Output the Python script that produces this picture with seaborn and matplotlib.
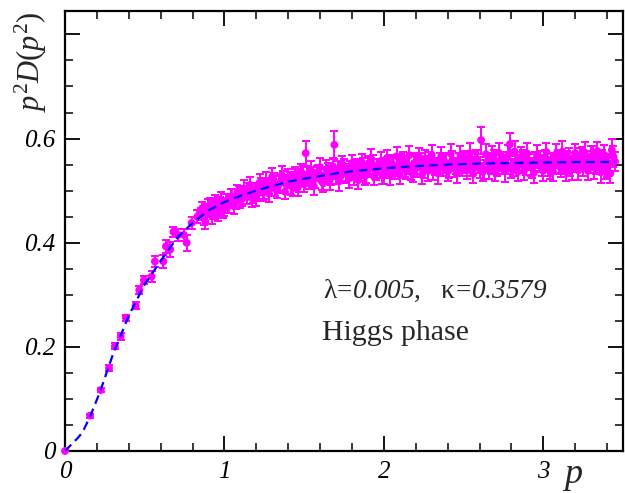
import numpy as np
import pandas as pd
import matplotlib
matplotlib.use('Agg')
import matplotlib.pyplot as plt
import seaborn as sns
from matplotlib.ticker import MultipleLocator, FixedLocator, FixedFormatter

# ---- data ----
# low-momentum points
p_low = [0.0, 0.157, 0.224, 0.276, 0.313, 0.349, 0.382, 0.443, 0.466, 0.495,
         0.543, 0.564, 0.617, 0.633, 0.66, 0.68, 0.71, 0.745, 0.763, 0.794, 0.83]
y_low = [0.0, 0.068, 0.117, 0.159, 0.201, 0.220, 0.256, 0.279, 0.309, 0.328,
         0.335, 0.364, 0.364, 0.393, 0.387, 0.421, 0.415, 0.415, 0.400, 0.438, 0.450]
e_low = [0.002, 0.004, 0.004, 0.006, 0.006, 0.006, 0.006, 0.007, 0.008, 0.008,
         0.010, 0.010, 0.012, 0.012, 0.014, 0.010, 0.012, 0.012, 0.015, 0.012, 0.012]

# dense band, first set of momenta
p_band1 = [0.85, 0.87, 0.89, 0.91, 0.93, 0.95, 0.97, 0.99, 1.01, 1.03,
           1.05, 1.07, 1.09, 1.11, 1.13, 1.15, 1.17, 1.19, 1.21, 1.23,
           1.25, 1.27, 1.29, 1.31, 1.33, 1.35, 1.37, 1.39, 1.41, 1.43,
           1.45, 1.47, 1.49, 1.51, 1.53, 1.55, 1.57, 1.59, 1.61, 1.63,
           1.65, 1.67, 1.69, 1.71, 1.73, 1.75, 1.77, 1.79, 1.81, 1.83,
           1.85, 1.87, 1.89, 1.91, 1.93, 1.95, 1.97, 1.99, 2.01, 2.03,
           2.05, 2.07, 2.09, 2.11, 2.13, 2.15, 2.17, 2.19, 2.21, 2.23,
           2.25, 2.27, 2.29, 2.31, 2.33, 2.35, 2.37, 2.39, 2.41, 2.43,
           2.45, 2.47, 2.49, 2.51, 2.53, 2.55, 2.57, 2.59, 2.61, 2.63,
           2.65, 2.67, 2.69, 2.71, 2.73, 2.75, 2.77, 2.79, 2.81, 2.83,
           2.85, 2.87, 2.89, 2.91, 2.93, 2.95, 2.97, 2.99, 3.01, 3.03,
           3.05, 3.07, 3.09, 3.11, 3.13, 3.15, 3.17, 3.19, 3.21, 3.23,
           3.25, 3.27, 3.29, 3.31, 3.33, 3.35, 3.37, 3.39, 3.41, 3.43,
           3.45]
y_band1 = [0.455, 0.448, 0.462, 0.470, 0.458, 0.466, 0.475, 0.462, 0.480, 0.471,
           0.488, 0.478, 0.493, 0.484, 0.497, 0.500, 0.486, 0.502, 0.494, 0.508,
           0.498, 0.512, 0.506, 0.520, 0.502, 0.515, 0.524, 0.510, 0.521, 0.505,
           0.527, 0.514, 0.532, 0.572, 0.520, 0.531, 0.523, 0.535, 0.518, 0.529,
           0.537, 0.526, 0.588, 0.540, 0.528, 0.544, 0.533, 0.539, 0.527, 0.546,
           0.535, 0.548, 0.531, 0.542, 0.550, 0.536, 0.545, 0.530, 0.549, 0.540,
           0.552, 0.537, 0.546, 0.555, 0.541, 0.549, 0.536, 0.553, 0.544, 0.557,
           0.542, 0.551, 0.558, 0.539, 0.548, 0.556, 0.545, 0.552, 0.540, 0.559,
           0.547, 0.554, 0.543, 0.560, 0.551, 0.546, 0.557, 0.549, 0.597, 0.541,
           0.556, 0.548, 0.561, 0.545, 0.553, 0.558, 0.550, 0.589, 0.544, 0.557,
           0.551, 0.562, 0.547, 0.555, 0.543, 0.559, 0.552, 0.548, 0.563, 0.546,
           0.556, 0.550, 0.561, 0.544, 0.554, 0.559, 0.547, 0.557, 0.552, 0.563,
           0.545, 0.558, 0.550, 0.566, 0.548, 0.555, 0.561, 0.543, 0.553, 0.578,
           0.556]
e_band1 = [0.012, 0.014, 0.012, 0.015, 0.013, 0.016, 0.012, 0.015, 0.014, 0.013,
           0.015, 0.013, 0.016, 0.014, 0.012, 0.015, 0.017, 0.013, 0.014, 0.016,
           0.015, 0.013, 0.016, 0.014, 0.017, 0.015, 0.013, 0.016, 0.014, 0.015,
           0.014, 0.017, 0.015, 0.024, 0.016, 0.014, 0.017, 0.015, 0.016, 0.014,
           0.016, 0.015, 0.027, 0.017, 0.014, 0.016, 0.015, 0.018, 0.016, 0.015,
           0.016, 0.014, 0.017, 0.015, 0.018, 0.016, 0.015, 0.017, 0.014, 0.016,
           0.017, 0.015, 0.018, 0.016, 0.014, 0.017, 0.016, 0.015, 0.018, 0.016,
           0.017, 0.015, 0.016, 0.018, 0.015, 0.017, 0.016, 0.018, 0.015, 0.017,
           0.016, 0.018, 0.015, 0.017, 0.016, 0.018, 0.017, 0.016, 0.026, 0.018,
           0.016, 0.017, 0.018, 0.016, 0.015, 0.017, 0.018, 0.022, 0.016, 0.017,
           0.018, 0.016, 0.017, 0.015, 0.018, 0.016, 0.017, 0.019, 0.016, 0.018,
           0.017, 0.016, 0.018, 0.017, 0.015, 0.018, 0.019, 0.016, 0.017, 0.018,
           0.016, 0.018, 0.017, 0.019, 0.016, 0.017, 0.018, 0.020, 0.016, 0.022,
           0.018]

# dense band, second set of momenta
p_band2 = [0.86, 0.88, 0.90, 0.92, 0.94, 0.96, 0.98, 1.00, 1.02, 1.04,
           1.06, 1.08, 1.10, 1.12, 1.14, 1.16, 1.18, 1.20, 1.22, 1.24,
           1.26, 1.28, 1.30, 1.32, 1.34, 1.36, 1.38, 1.40, 1.42, 1.44,
           1.46, 1.48, 1.50, 1.52, 1.54, 1.56, 1.58, 1.60, 1.62, 1.64,
           1.66, 1.68, 1.70, 1.72, 1.74, 1.76, 1.78, 1.80, 1.82, 1.84,
           1.86, 1.88, 1.90, 1.92, 1.94, 1.96, 1.98, 2.00, 2.02, 2.04,
           2.06, 2.08, 2.10, 2.12, 2.14, 2.16, 2.18, 2.20, 2.22, 2.24,
           2.26, 2.28, 2.30, 2.32, 2.34, 2.36, 2.38, 2.40, 2.42, 2.44,
           2.46, 2.48, 2.50, 2.52, 2.54, 2.56, 2.58, 2.60, 2.62, 2.64,
           2.66, 2.68, 2.70, 2.72, 2.74, 2.76, 2.78, 2.80, 2.82, 2.84,
           2.86, 2.88, 2.90, 2.92, 2.94, 2.96, 2.98, 3.00, 3.02, 3.04,
           3.06, 3.08, 3.10, 3.12, 3.14, 3.16, 3.18, 3.20, 3.22, 3.24,
           3.26, 3.28, 3.30, 3.32, 3.34, 3.36, 3.38, 3.40, 3.42, 3.44]
y_band2 = [0.466, 0.441, 0.470, 0.452, 0.479, 0.457, 0.483, 0.468, 0.470, 0.489,
           0.472, 0.496, 0.481, 0.503, 0.488, 0.511, 0.491, 0.485, 0.515, 0.496,
           0.519, 0.494, 0.527, 0.503, 0.512, 0.530, 0.498, 0.526, 0.509, 0.531,
           0.506, 0.536, 0.512, 0.527, 0.540, 0.509, 0.533, 0.545, 0.514, 0.541,
           0.520, 0.547, 0.529, 0.518, 0.551, 0.533, 0.523, 0.553, 0.540, 0.520,
           0.555, 0.528, 0.549, 0.561, 0.526, 0.543, 0.557, 0.532, 0.563, 0.529,
           0.548, 0.566, 0.530, 0.559, 0.541, 0.568, 0.534, 0.552, 0.565, 0.531,
           0.562, 0.538, 0.569, 0.546, 0.533, 0.566, 0.556, 0.537, 0.571, 0.544,
           0.534, 0.568, 0.553, 0.539, 0.572, 0.532, 0.562, 0.545, 0.536, 0.570,
           0.540, 0.566, 0.535, 0.573, 0.549, 0.537, 0.568, 0.542, 0.575, 0.536,
           0.565, 0.539, 0.571, 0.546, 0.534, 0.569, 0.557, 0.538, 0.574, 0.543,
           0.537, 0.570, 0.549, 0.575, 0.536, 0.563, 0.541, 0.572, 0.539, 0.567,
           0.573, 0.538, 0.566, 0.544, 0.576, 0.535, 0.569, 0.548, 0.533, 0.565]
e_band2 = [0.013, 0.015, 0.014, 0.016, 0.013, 0.015, 0.014, 0.016, 0.013, 0.015,
           0.016, 0.014, 0.015, 0.017, 0.014, 0.016, 0.015, 0.014, 0.017, 0.015,
           0.016, 0.015, 0.017, 0.014, 0.016, 0.018, 0.015, 0.016, 0.017, 0.015,
           0.017, 0.016, 0.015, 0.018, 0.016, 0.017, 0.015, 0.018, 0.016, 0.017,
           0.018, 0.016, 0.017, 0.019, 0.016, 0.018, 0.017, 0.016, 0.019, 0.017,
           0.016, 0.018, 0.017, 0.019, 0.016, 0.018, 0.017, 0.019, 0.016, 0.018,
           0.019, 0.017, 0.018, 0.016, 0.019, 0.017, 0.018, 0.020, 0.017, 0.018,
           0.017, 0.019, 0.018, 0.016, 0.020, 0.018, 0.017, 0.019, 0.018, 0.017,
           0.019, 0.018, 0.020, 0.017, 0.019, 0.018, 0.017, 0.020, 0.018, 0.019,
           0.018, 0.020, 0.017, 0.019, 0.018, 0.020, 0.019, 0.017, 0.020, 0.018,
           0.019, 0.018, 0.020, 0.017, 0.019, 0.018, 0.020, 0.019, 0.017, 0.020,
           0.018, 0.019, 0.017, 0.020, 0.018, 0.019, 0.020, 0.018, 0.019, 0.017,
           0.020, 0.018, 0.019, 0.021, 0.018, 0.020, 0.019, 0.022, 0.018, 0.020]

# fitted curve
p_fit = [0.0, 0.08, 0.11, 0.16, 0.22, 0.30, 0.40, 0.50, 0.60, 0.70, 0.80, 0.90,
         1.00, 1.10, 1.20, 1.30, 1.40, 1.50, 1.60, 1.70, 1.80, 1.90, 2.00, 2.20,
         2.40, 2.60, 2.80, 3.00, 3.20, 3.45]
y_fit = [0.0, 0.025, 0.036, 0.068, 0.114, 0.185, 0.260, 0.320, 0.365, 0.408, 0.438, 0.462,
         0.478, 0.490, 0.500, 0.509, 0.517, 0.523, 0.528, 0.533, 0.537, 0.540, 0.543, 0.547,
         0.550, 0.552, 0.553, 0.554, 0.555, 0.555]

df = pd.DataFrame({'p': p_low + p_band1 + p_band2,
                   'y': y_low + y_band1 + y_band2,
                   'err': e_low + e_band1 + e_band2})
fit = pd.DataFrame({'p': p_fit, 'y': y_fit})

# ---- style ----
sns.set_theme(style='ticks')
plt.rcParams['font.family'] = ['Liberation Serif', 'DejaVu Serif']
plt.rcParams['mathtext.fontset'] = 'custom'
plt.rcParams['mathtext.rm'] = 'Liberation Serif'
plt.rcParams['mathtext.it'] = 'Liberation Serif:italic'

magenta = '#ff00ff'
blue = '#0000ff'

fig = plt.figure(figsize=(6.25, 4.93), dpi=100)
ax = fig.add_axes([0.104, 0.0852, 0.8928, 0.8925])

ax.errorbar(df['p'], df['y'], yerr=df['err'], fmt='none', ecolor=magenta,
            elinewidth=1.4, capsize=2.8, capthick=1.4, zorder=2)
sns.scatterplot(data=df, x='p', y='y', ax=ax, color=magenta, s=32,
                edgecolor='none', linewidth=0, zorder=3, clip_on=False)
sns.lineplot(data=fit, x='p', y='y', ax=ax, color=blue, linewidth=1.6, zorder=4)
ax.lines[-1].set_dashes([4, 2.4])

ax.set_xlim(0, 3.5)
ax.set_ylim(0, 0.845)

ax.xaxis.set_major_locator(MultipleLocator(1))
ax.xaxis.set_minor_locator(MultipleLocator(0.2))
ax.yaxis.set_major_locator(FixedLocator([0, 0.2, 0.4, 0.6, 0.8]))
ax.yaxis.set_major_formatter(FixedFormatter(['0', '0.2', '0.4', '0.6', '']))
ax.yaxis.set_minor_locator(MultipleLocator(0.05))

ax.tick_params(which='both', direction='in', top=True, right=True, colors='black')
ax.tick_params(which='major', length=11, width=1.3, pad=7, labelsize=18)
ax.tick_params(which='minor', length=6, width=1.1)
for lab in ax.get_xticklabels() + ax.get_yticklabels():
    lab.set_fontstyle('italic')

for s in ax.spines.values():
    s.set_linewidth(1.6)
    s.set_color('black')

ax.set_xlabel(r'$p$', fontsize=26)
ax.xaxis.set_label_coords(0.91, -0.02)
ax.set_ylabel(r'$p^2D(p^2)$', fontsize=22)
ax.yaxis.set_label_coords(-0.028, 0.885)

# greek letters and "=" upright, numbers italic
ax.text(0.462, 0.348, r'$\mathrm{\lambda}\!\mathrm{=}\!$0.005,   $\mathrm{\kappa}\!\mathrm{=}\!$0.3579',
        transform=ax.transAxes, fontsize=19.5, fontstyle='italic', ha='left', va='baseline')
ax.text(0.4606, 0.252, 'Higgs phase', transform=ax.transAxes, fontsize=21.5,
        ha='left', va='baseline')

fig.savefig('out.png', dpi=100)
